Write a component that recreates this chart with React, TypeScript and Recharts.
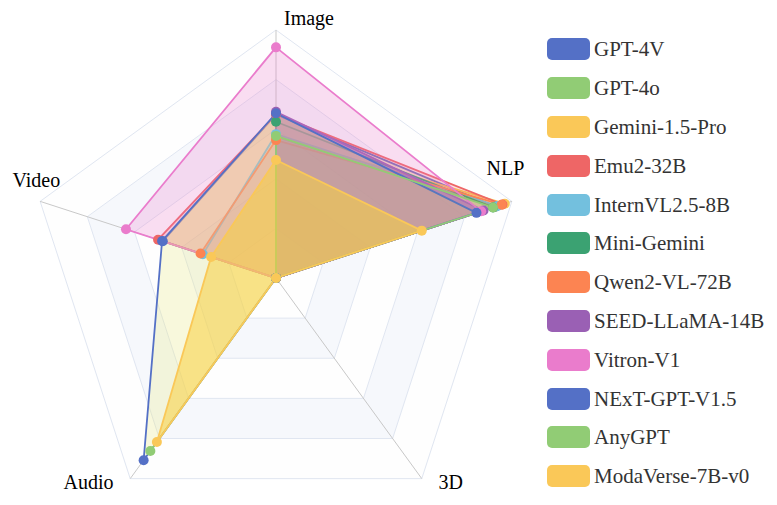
import React from "react";
import { RadarChart, Radar, PolarGrid, PolarAngleAxis, PolarRadiusAxis } from "recharts";

const axes = ["Image", "NLP", "3D", "Audio", "Video"];

const models = [
  "GPT-4V",
  "GPT-4o",
  "Gemini-1.5-Pro",
  "Emu2-32B",
  "InternVL2.5-8B",
  "Mini-Gemini",
  "Qwen2-VL-72B",
  "SEED-LLaMA-14B",
  "Vitron-V1",
  "NExT-GPT-V1.5",
  "AnyGPT",
  "ModaVerse-7B-v0",
];

const colors = [
  "#5470c6", "#91cc75", "#fac858", "#ee6666", "#73c0de", "#3ba272",
  "#fc8452", "#9a60b4", "#ea7ccc", "#5470c6", "#91cc75", "#fac858",
];

// area tints (the blue series are filled with a pale cream in the original)
const areaColors = [
  "#e6e678", "#91cc75", "#fac858", "#ee6666", "#73c0de", "#3ba272",
  "#fc8452", "#9a60b4", "#ea7ccc", "#e6e678", "#91cc75", "#f8d040",
];
const areaOpacity = [0.25, 0.08, 0.1, 0.2, 0.15, 0.08, 0.2, 0.6, 0.25, 0.25, 0.08, 0.55];

// scores per model, in axis order: Image, NLP, 3D, Audio, Video
const gpt4v = [66, 93, 0, 0, 48];
const gpt4o = [57, 93, 0, 0, 0];
const gemini = [57, 97, 0, 0, 0];
const emu2 = [66, 96, 0, 0, 50];
const internvl = [58, 94, 0, 0, 31];
const miniGemini = [63, 92, 0, 0, 0];
const qwen2 = [55.6, 95.7, 0, 0, 32];
const seedLlama = [67, 88, 0, 0, 0];
const vitron = [93, 87, 0, 0, 63.6];
const nextGpt = [66.4, 85, 0, 90.8, 48.3];
const anyGpt = [57.3, 92, 0, 86.2, 0];
const modaVerse = [47.6, 61.8, 0, 81.7, 27.5];

const scores = [gpt4v, gpt4o, gemini, emu2, internvl, miniGemini, qwen2, seedLlama, vitron, nextGpt, anyGpt, modaVerse];

// split-area bands, outer to inner
const gridLevels = [100, 80, 60, 40, 20];
const bandColors = ["#fefefe", "#f6f8fc", "#fefefe", "#f6f8fc", "#fefefe"];

const data = axes.map((axis, i) => {
  const row: Record<string, string | number> = { axis };
  scores.forEach((s, j) => {
    row[`s${j}`] = s[i];
  });
  return row;
});

const labelOffsets: Record<string, { dx: number; dy: number; anchor: "start" | "end" }> = {
  Image: { dx: 8, dy: 3, anchor: "start" },
  NLP: { dx: -33, dy: -24, anchor: "start" },
  "3D": { dx: 12, dy: 4, anchor: "start" },
  Audio: { dx: -12, dy: 4, anchor: "end" },
  Video: { dx: -20, dy: -12, anchor: "start" },
};

const AxisLabel = (props: any) => {
  const { x, y, payload } = props;
  const o = labelOffsets[payload.value] || { dx: 0, dy: 0, anchor: "middle" };
  return (
    <text x={x + o.dx} y={y + o.dy} textAnchor={o.anchor} fontSize={20} fill="#000" fontFamily="'Liberation Serif', 'Times New Roman', serif">
      {payload.value}
    </text>
  );
};

function LegendBox() {
  return (
    <div style={{ position: "absolute", left: 547, top: 38 }}>
      {models.map((m, i) => (
        <div key={m} style={{ display: "flex", alignItems: "center", height: 38.8, marginTop: i === 0 ? -8 : 0 }}>
          <div style={{ width: 43, height: 22, borderRadius: 5, background: colors[i] }} />
          <span style={{ marginLeft: 4, fontSize: 21, color: "#333", fontFamily: "'Liberation Serif', 'Times New Roman', serif", lineHeight: "22px" }}>
            {m}
          </span>
        </div>
      ))}
    </div>
  );
}

const chartGeom = { width: 777, height: 505, cx: 276, cy: 278, outerRadius: 248, margin: { top: 0, right: 0, bottom: 0, left: 0 } };
const layer: React.CSSProperties = { position: "absolute", left: 0, top: 0 };

export default function App() {
  return (
    <div style={{ position: "absolute", left: 0, top: 0, width: 777, height: 505, background: "#fff", overflow: "hidden" }}>
      {/* background bands */}
      <div style={layer}>
        <RadarChart {...chartGeom} data={data}>
          <PolarRadiusAxis domain={[0, 100]} tickCount={6} angle={90} axisLine={false} tick={false} />
          <PolarAngleAxis dataKey="axis" tick={false} tickLine={false} axisLine={false} />
          {gridLevels.map((level, i) => (
            <Radar
              key={`band${level}`}
              dataKey={() => level}
              stroke="none"
              fill={bandColors[i]}
              fillOpacity={1}
              dot={false}
              legendType="none"
              isAnimationActive={false}
            />
          ))}
        </RadarChart>
      </div>
      {/* grid + series */}
      <div style={layer}>
        <RadarChart {...chartGeom} data={data}>
          <PolarGrid gridType="polygon" stroke="#e0e6f1" radialLines={false} />
          <PolarGrid gridType="polygon" stroke="#c8c8c8" polarRadius={[]} />
          <PolarRadiusAxis domain={[0, 100]} tickCount={6} angle={90} axisLine={false} tick={false} />
          <PolarAngleAxis dataKey="axis" tick={<AxisLabel />} tickLine={false} axisLine={false} />
          {models.map((m, i) => (
            <Radar
              key={m}
              name={m}
              dataKey={`s${i}`}
              stroke={colors[i]}
              strokeWidth={1.8}
              fill={areaColors[i]}
              fillOpacity={areaOpacity[i]}
              dot={{ r: 5, fill: colors[i], stroke: colors[i], strokeWidth: 0, fillOpacity: 1 }}
              isAnimationActive={false}
            />
          ))}
        </RadarChart>
      </div>
      <LegendBox />
    </div>
  );
}
